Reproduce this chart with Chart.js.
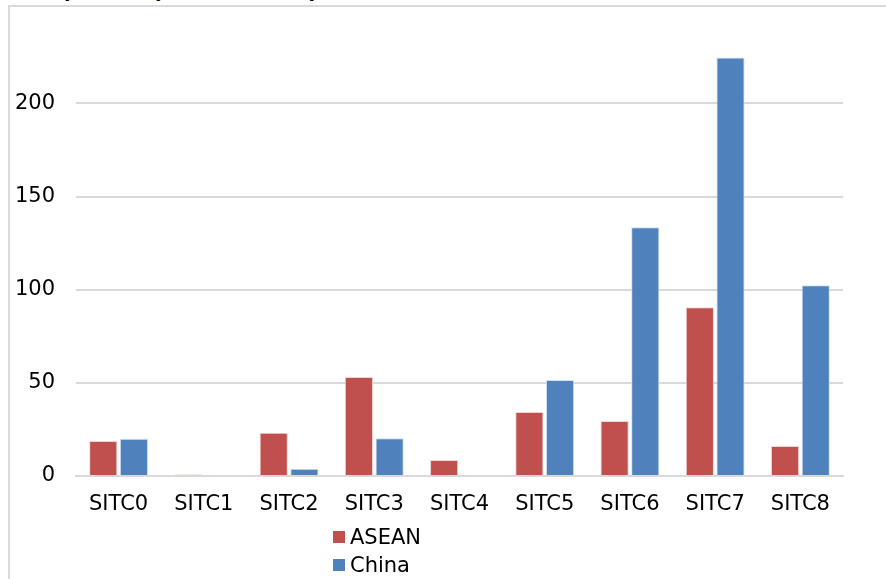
<!DOCTYPE html>
<html>
<head>
<meta charset="utf-8">
<script src="https://cdn.jsdelivr.net/npm/chart.js@4.4.1/dist/chart.umd.min.js"></script>
<style>
  html, body { margin: 0; padding: 0; background: #fff; }
  body { width: 886px; height: 579px; position: relative; overflow: hidden; font-family: "DejaVu Sans", sans-serif; }
  #title { position: absolute; left: 2px; top: -21px; font-weight: bold; font-size: 19px; white-space: nowrap; color: #000; }
  #frame { position: absolute; left: 8px; top: 5px; width: 900px; height: 600px; border-left: 2px solid #d9d9d9; border-top: 2px solid #d9d9d9; background: #fff; }
  #wrap { position: absolute; left: 0; top: 0; width: 886px; height: 579px; }
  #legend { position: absolute; left: 333px; top: 524px; font-size: 21px; color: #000; }
  #legend div { height: 28px; line-height: 26px; }
  #legend span.box { display: inline-block; width: 12px; height: 12px; margin-right: 5px; vertical-align: 1px; }
</style>
</head>
<body>
<div id="title">(c) Imports of parts and components from ASEAN and China, 2020 (US$ billion)</div>
<div id="frame"></div>
<div id="wrap"><canvas id="chart" width="886" height="579"></canvas></div>
<div id="legend"></div>
<script>
let categories = ["SITC0", "SITC1", "SITC2", "SITC3", "SITC4", "SITC5", "SITC6", "SITC7", "SITC8"];
let asean = [18.8, 0.8, 23.2, 53.2, 8.6, 34.3, 29.5, 90.6, 16.1];
let china = [20.0, 0.6, 3.9, 20.2, 0.6, 51.5, 133.5, 224.7, 102.4];
let seriesNames = ["ASEAN", "China"];
let seriesColors = ["#C0504D", "#4F81BD"];
let yTicks = [0, 50, 100, 150, 200];

const ctx = document.getElementById("chart").getContext("2d");

let chart = new Chart(ctx, {
    type: "bar",
    data: {
        labels: categories,
        datasets: [{
            label: seriesNames[0],
            data: asean,
            backgroundColor: seriesColors[0],
            borderColor: "#f2d4d3",
            borderWidth: 1
        }, {
            label: seriesNames[1],
            data: china,
            backgroundColor: seriesColors[1],
            borderColor: "#d3e0f0",
            borderWidth: 1
        }]
    },
    options: {
        responsive: false,
        animation: false,
        layout: { padding: { top: 10, right: 43, bottom: 0, left: 0 } },
        datasets: { bar: { categoryPercentage: 0.72, barPercentage: 0.92 } },
        plugins: { legend: { display: false }, tooltip: { enabled: false } },
        scales: {
            x: {
                grid: { display: false, drawTicks: false },
                border: { color: "#d9d9d9", width: 2 },
                ticks: { color: "#000", font: { family: "DejaVu Sans", size: 21 }, padding: 16, maxRotation: 0 },
                afterFit: function (axis) { axis.height = 103; }
            },
            y: {
                min: 0,
                max: 237.5,
                border: { display: false },
                grid: {
                    drawTicks: false,
                    lineWidth: 2,
                    color: function (c) { return c.tick && c.tick.value > 0 && yTicks.includes(c.tick.value) ? "#d9d9d9" : "rgba(0,0,0,0)"; }
                },
                ticks: {
                    stepSize: 50,
                    color: "#000",
                    padding: 21,
                    font: { family: "DejaVu Sans", size: 21 },
                    callback: function (v) { return yTicks.includes(v) ? v : ""; }
                },
                afterFit: function (axis) { axis.width = 76; }
            }
        }
    }
});

let legend = document.getElementById("legend");
chart.data.datasets.forEach(ds => {
    let row = document.createElement("div");
    row.innerHTML = `<span class="box" style="background:${ds.backgroundColor}"></span>${ds.label}`;
    legend.appendChild(row);
});
</script>
</body>
</html>
